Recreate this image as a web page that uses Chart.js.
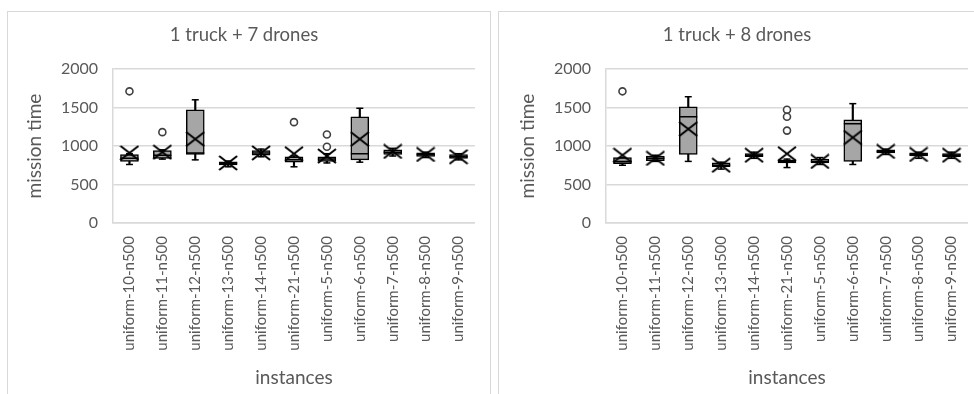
<!DOCTYPE html>
<html>
<head>
<meta charset="utf-8">
<script src="https://cdn.jsdelivr.net/npm/chart.js@4/dist/chart.umd.min.js"></script>
<style>
  html, body { margin: 0; padding: 0; background: #fff; width: 974px; height: 394px; overflow: hidden; position: relative; }
  .panel { position: absolute; top: 11px; height: 400px; border: 1px solid #d9d9d9; box-sizing: border-box; }
  #p1 { left: 7px; width: 484px; }
  #p2 { left: 498px; width: 490px; }
  canvas { position: absolute; top: 12px; }
  #c1 { left: 8px; }
  #c2 { left: 501px; }
</style>
</head>
<body>
<div class="panel" id="p1"></div>
<div class="panel" id="p2"></div>
<canvas id="c1" width="482" height="382"></canvas>
<canvas id="c2" width="482" height="382"></canvas>
<script>
// Instances on the x axis
const categories = ['uniform-10-n500', 'uniform-11-n500', 'uniform-12-n500', 'uniform-13-n500',
  'uniform-14-n500', 'uniform-21-n500', 'uniform-5-n500', 'uniform-6-n500',
  'uniform-7-n500', 'uniform-8-n500', 'uniform-9-n500'];
const yTicks = [0, 500, 1000, 1500, 2000];

// 1 truck + 7 drones: five-number summary, mean and outliers per instance
const min7    = [760, 830, 820, 730, 860, 730, 780, 790, 870, 850, 820];
const q1_7    = [800, 840, 890, 755, 880, 790, 800, 820, 890, 865, 840];
const median7 = [840, 880, 910, 775, 910, 820, 830, 900, 920, 890, 860];
const q3_7    = [890, 940, 1470, 795, 940, 860, 860, 1380, 950, 910, 890];
const max7    = [900, 950, 1600, 805, 960, 870, 900, 1490, 970, 920, 900];
const mean7   = [910, 920, 1090, 780, 910, 900, 870, 1090, 930, 890, 860];
const outliers7 = [
  { x: 'uniform-10-n500', y: 1710 },
  { x: 'uniform-11-n500', y: 1180 },
  { x: 'uniform-21-n500', y: 1310 },
  { x: 'uniform-5-n500',  y: 1150 },
  { x: 'uniform-5-n500',  y: 990 }
];

// 1 truck + 8 drones
const min8    = [750, 800, 800, 700, 840, 720, 760, 760, 890, 840, 840];
const q1_8    = [770, 810, 890, 730, 860, 780, 780, 800, 910, 870, 860];
const median8 = [800, 840, 1380, 750, 880, 800, 800, 1290, 930, 890, 880];
const q3_8    = [850, 870, 1510, 780, 900, 820, 830, 1340, 950, 910, 900];
const max8    = [850, 880, 1640, 790, 920, 830, 850, 1550, 960, 920, 920];
const mean8   = [880, 840, 1220, 750, 880, 900, 800, 1110, 930, 890, 880];
const outliers8 = [
  { x: 'uniform-10-n500', y: 1710 },
  { x: 'uniform-21-n500', y: 1470 },
  { x: 'uniform-21-n500', y: 1380 },
  { x: 'uniform-21-n500', y: 1200 }
];

const TEXT = '#595959';
const GRID = '#d9d9d9';
Chart.defaults.font.family = "Lato, 'Open Sans', sans-serif";

// "X" marker used for the mean
function makeCross() {
  const c = document.createElement('canvas');
  c.width = 20; c.height = 16;
  const g = c.getContext('2d');
  g.strokeStyle = '#000';
  g.lineWidth = 2;
  g.beginPath();
  g.moveTo(1, 1); g.lineTo(19, 15);
  g.moveTo(19, 1); g.lineTo(1, 15);
  g.stroke();
  return c;
}
const cross = makeCross();

function pointSet(data, style, radius, order, extra) {
  return Object.assign({
    type: 'line', data, showLine: false, order,
    pointStyle: style, pointRadius: radius, pointHoverRadius: radius,
    pointBorderColor: '#000', pointBackgroundColor: '#000', pointBorderWidth: 1.5,
    borderColor: '#000'
  }, extra || {});
}

function boxChart(id, title, mins, q1s, medians, q3s, maxs, means, outliers) {
  const whiskers = categories.map((c, i) => [mins[i], maxs[i]]);
  const boxes = categories.map((c, i) => [q1s[i], q3s[i]]);
  return new Chart(document.getElementById(id), {
    data: {
      labels: categories,
      datasets: [
        { type: 'bar', data: whiskers, grouped: false, order: 6, barThickness: 1.5,
          backgroundColor: '#000', borderWidth: 0 },
        { type: 'bar', data: boxes, grouped: false, order: 5, barThickness: 18,
          backgroundColor: '#a6a6a6', borderColor: '#000', borderWidth: 1.5, borderSkipped: false },
        pointSet(medians, 'line', 9, 4),
        pointSet(mins, 'line', 3.5, 4),
        pointSet(maxs, 'line', 3.5, 4),
        pointSet(means, cross, 9, 2),
        pointSet(outliers, 'circle', 3.5, 1, {
          pointBackgroundColor: '#fff', pointBorderColor: '#404040', pointBorderWidth: 1.6
        })
      ]
    },
    options: {
      responsive: false,
      animation: false,
      events: [],
      layout: { padding: { left: 0, right: 10, top: 0, bottom: 2 } },
      plugins: {
        legend: { display: false },
        tooltip: { enabled: false },
        title: {
          display: true, text: title, color: TEXT,
          font: { size: 18.5, weight: 'normal' },
          padding: { top: 12, bottom: 22.8 }
        }
      },
      scales: {
        x: {
          offset: true,
          grid: { display: false, drawTicks: false },
          border: { display: true, color: GRID, width: 1.5 },
          ticks: { color: TEXT, font: { size: 15 }, minRotation: 90, maxRotation: 90, autoSkip: false, padding: 13 },
          title: { display: true, text: 'instances', color: TEXT, font: { size: 19 }, padding: { top: 4, bottom: 3 } },
          afterFit: s => { s.height = 169; }
        },
        y: {
          min: 0, max: 2000,
          afterBuildTicks: s => { s.ticks = yTicks.map(v => ({ value: v })); },
          grid: { color: GRID, lineWidth: 1.5, drawTicks: false },
          border: { display: true, color: GRID, width: 1.5 },
          ticks: { color: TEXT, font: { size: 16 }, padding: 15, callback: v => String(v) },
          title: { display: true, text: 'mission time', color: TEXT, font: { size: 19 }, padding: { top: 15.6, bottom: 0 } },
          afterFit: s => { s.width = 105; }
        }
      }
    }
  });
}

boxChart('c1', '1 truck + 7 drones', min7, q1_7, median7, q3_7, max7, mean7, outliers7);
boxChart('c2', '1 truck + 8 drones', min8, q1_8, median8, q3_8, max8, mean8, outliers8);
</script>
</body>
</html>
